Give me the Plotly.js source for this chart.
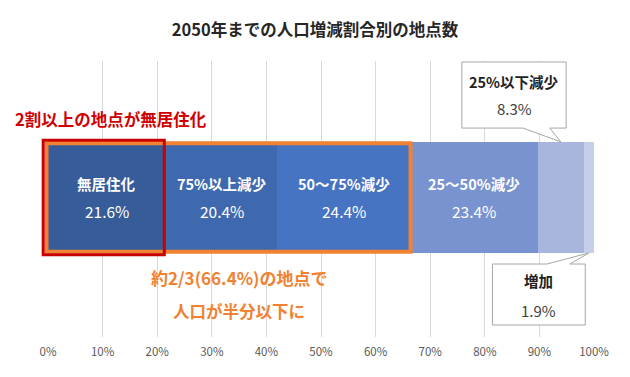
<!DOCTYPE html>
<html>
<head>
<meta charset="utf-8">
<script src="https://cdn.plot.ly/plotly-3.0.1.min.js"></script>
<style>html,body{margin:0;padding:0;background:#fff;}#chart{width:630px;height:377px;}</style>
</head>
<body>
<div id="chart"></div>
<script>
// ---- data ----
const categories = ['無居住化', '75%以上減少', '50～75%減少', '25～50%減少', '25%以下減少', '増加'];
const values = [21.6, 20.4, 24.4, 23.4, 8.3, 1.9];
const colors = ['#365C99', '#3F69AF', '#4673C2', '#7893D0', '#A8B6DE', '#C7CEEA'];
const tickVals = [0, 10, 20, 30, 40, 50, 60, 70, 80, 90, 100];
const tickText = ['0%', '10%', '20%', '30%', '40%', '50%', '60%', '70%', '80%', '90%', '100%'];
const chartTitle = '2050年までの人口増減割合別の地点数';
const redNote = '2割以上の地点が無居住化';
const orangeNote = ['約2/3(66.4%)の地点で', '人口が半分以下に'];

const FONT = '"Noto Sans CJK JP", "Noto Sans", sans-serif';
const BARW = 0.804;
const half = BARW / 2;
const YMAX = 0.989, YMIN = -1.011;
const XMAX = 100;

// cumulative positions
const starts = [];
let acc = 0;
values.forEach(v => { starts.push(acc); acc += v; });
const mids = values.map((v, i) => starts[i] + v / 2);

const traces = categories.map((c, i) => ({
  type: 'bar', orientation: 'h', name: c,
  x: [values[i]], y: [0], width: BARW,
  marker: { color: colors[i], line: { width: 0 } },
  hoverinfo: 'skip'
}));

const annotations = [];
// inside labels for first four segments
for (let i = 0; i < 4; i++) {
  annotations.push({ x: mids[i], y: 0, xref: 'x', yref: 'y', xanchor: 'center', yanchor: 'middle',
    text: '<b>' + categories[i] + '</b>',
    showarrow: false, yshift: 14, font: { family: FONT, size: 14.5, color: '#ffffff' } });
  annotations.push({ x: mids[i], y: 0, xref: 'x', yref: 'y', xanchor: 'center', yanchor: 'middle',
    text: values[i].toFixed(1) + '%',
    showarrow: false, yshift: -14, font: { family: FONT, size: 15.5, color: '#ffffff' } });
}

// callouts
const c1 = { x0: 75.8, x1: 94.9, y0: 0.982, y1: 0.503, bx0: 87.0, bx1: 91.9 };
const c2 = { x0: 81.4, x1: 98.4, y0: -0.482, y1: -0.924, bx0: 91.4, bx1: 95.6 };
const tip1 = mids[4], tip2 = mids[5];
const cx1 = (c1.x0 + c1.x1) / 2, cx2 = (c2.x0 + c2.x1) / 2;
const py = px => YMAX - (px - 61) / 138;
annotations.push({ x: cx1, y: py(81.7), xref: 'x', yref: 'y', xanchor: 'center', yanchor: 'middle',
  text: '<b>' + categories[4] + '</b>', showarrow: false, font: { family: FONT, size: 14.5, color: '#222222' } });
annotations.push({ x: cx1, y: py(108), xref: 'x', yref: 'y', xanchor: 'center', yanchor: 'middle',
  text: values[4].toFixed(1) + '%', showarrow: false, font: { family: FONT, size: 15, color: '#404040' } });
annotations.push({ x: cx2, y: py(280.7), xref: 'x', yref: 'y', xanchor: 'center', yanchor: 'middle',
  text: '<b>' + categories[5] + '</b>', showarrow: false, font: { family: FONT, size: 14.5, color: '#222222' } });
annotations.push({ x: cx2, y: py(310), xref: 'x', yref: 'y', xanchor: 'center', yanchor: 'middle',
  text: values[5].toFixed(1) + '%', showarrow: false, font: { family: FONT, size: 15, color: '#404040' } });

// notes
const ppx = px => (px - 48) / 546;
const ppy = px => 1 - (px - 61) / 276;
annotations.push({ x: ppx(111), y: ppy(119), xref: 'paper', yref: 'paper', xanchor: 'center', yanchor: 'middle',
  text: '<b>' + redNote + '</b>', showarrow: false, font: { family: FONT, size: 16.5, color: '#D00000' } });
annotations.push({ x: ppx(239), y: ppy(277), xref: 'paper', yref: 'paper', xanchor: 'center', yanchor: 'middle',
  text: '<b>' + orangeNote[0] + '</b>', showarrow: false, font: { family: FONT, size: 17, color: '#F08232' } });
annotations.push({ x: ppx(239), y: ppy(311), xref: 'paper', yref: 'paper', xanchor: 'center', yanchor: 'middle',
  text: '<b>' + orangeNote[1] + '</b>', showarrow: false, font: { family: FONT, size: 16.5, color: '#F08232' } });

const orangeEnd = starts[3];
const redEnd = starts[1];
// convert data to paper (so the outline boxes are not clipped at the axis edge)
const toPX = v => v / XMAX;
const toPY = v => (v - YMIN) / (YMAX - YMIN);

const shapes = [
  // callout 1 (points down to segment 5)
  { type: 'path', xref: 'x', yref: 'y',
    path: `M${c1.x0},${c1.y0} L${c1.x1},${c1.y0} L${c1.x1},${c1.y1} L${c1.bx1},${c1.y1} L${tip1},${half} L${c1.bx0},${c1.y1} L${c1.x0},${c1.y1} Z`,
    fillcolor: '#ffffff', line: { color: '#A6A6A6', width: 1 } },
  // callout 2 (points up to segment 6)
  { type: 'path', xref: 'x', yref: 'y',
    path: `M${c2.x0},${c2.y0} L${c2.bx0},${c2.y0} L${tip2},${-half} L${c2.bx1},${c2.y0} L${c2.x1},${c2.y0} L${c2.x1},${c2.y1} L${c2.x0},${c2.y1} Z`,
    fillcolor: '#ffffff', line: { color: '#A6A6A6', width: 1 } },
  // orange box (0 .. 66.4%)
  { type: 'rect', xref: 'paper', yref: 'paper', x0: toPX(-0.27), x1: toPX(orangeEnd), y0: toPY(-0.393), y1: toPY(0.393),
    line: { color: '#F08232', width: 4 }, fillcolor: 'rgba(0,0,0,0)' },
  // red box (0 .. 21.6%)
  { type: 'rect', xref: 'paper', yref: 'paper', x0: toPX(-0.88), x1: toPX(redEnd - 0.3), y0: toPY(-0.415), y1: toPY(0.414),
    line: { color: '#C80000', width: 3 }, fillcolor: 'rgba(0,0,0,0)' }
];

const layout = {
  width: 630, height: 377,
  margin: { l: 48, r: 36, t: 61, b: 40, pad: 0 },
  paper_bgcolor: '#ffffff', plot_bgcolor: '#ffffff',
  barmode: 'stack', bargap: 0, showlegend: false,
  title: { text: '<b>' + chartTitle + '</b>', x: 0.5, xref: 'container', y: 1 - 30 / 377, yref: 'container',
    xanchor: 'center', yanchor: 'middle', font: { family: FONT, size: 16.5, color: '#262626' } },
  xaxis: { range: [0, XMAX], tickvals: tickVals, ticktext: tickText, showgrid: true, gridcolor: '#D9D9D9', gridwidth: 1,
    zeroline: false, showline: false, ticks: '', ticklabelstandoff: 6,
    tickfont: { family: FONT, size: 11.5, color: '#595959' }, fixedrange: true },
  yaxis: { range: [YMIN, YMAX], showgrid: false, zeroline: false, showticklabels: false, showline: false, fixedrange: true },
  shapes: shapes,
  annotations: annotations
};

Plotly.newPlot('chart', traces, layout, { displayModeBar: false, staticPlot: true });
</script>
</body>
</html>
